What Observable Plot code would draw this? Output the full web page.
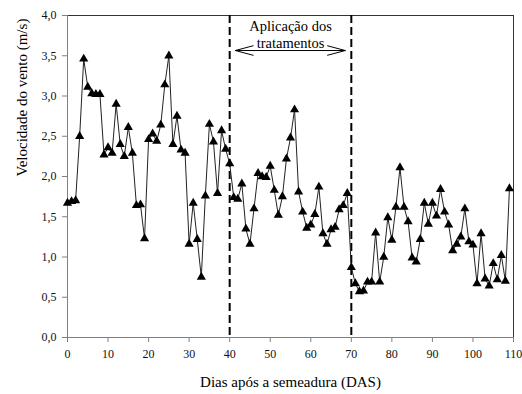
<!DOCTYPE html>
<html><head><meta charset="utf-8">
<script src="https://cdn.jsdelivr.net/npm/d3@7"></script>
<script src="https://cdn.jsdelivr.net/npm/@observablehq/plot@0.6"></script>
<style>body{margin:0;background:#fff}</style>
</head><body><div id="chart"></div>
<script>
// Days after sowing (DAS)
const days = d3.range(0, 110);
// Wind speed (m/s)
const speeds = [
  1.67,1.69,1.70,2.50,3.46,3.11,3.03,3.02,3.02,2.27,
  2.36,2.29,2.90,2.40,2.25,2.61,2.29,1.64,1.65,1.23,
  2.46,2.53,2.44,2.64,3.14,3.50,2.40,2.75,2.33,2.29,
  1.16,1.67,1.22,0.75,1.76,2.65,2.43,1.79,2.57,2.34,
  2.16,1.74,1.72,1.91,1.35,1.16,1.60,2.04,2.00,1.99,
  2.13,1.83,1.52,1.75,2.22,2.48,2.83,1.81,1.56,1.36,
  1.40,1.53,1.87,1.29,1.16,1.34,1.37,1.59,1.64,1.79,
  0.87,0.67,0.57,0.58,0.69,0.69,1.30,0.69,1.00,1.49,
  1.21,1.62,2.11,1.62,1.44,0.99,0.94,1.22,1.67,1.41,
  1.67,1.51,1.84,1.56,1.40,1.08,1.16,1.25,1.60,1.19,
  1.15,0.67,1.29,0.73,0.64,0.92,0.72,1.02,0.70,1.85
];
const xTicks = [0,10,20,30,40,50,60,70,80,90,100,110];
const yTicks = [0,0.5,1,1.5,2,2.5,3,3.5,4];
const phaseBounds = [40, 70];
const annotLines = ["Aplicação dos", "tratamentos"];
const annotX = [55, 55];
const annotY = [3.867, 3.652];
const arrowStart = [55, 55];
const arrowEnd = [41.4, 68.5];
const arrowY = [3.565, 3.565];
const xTitle = "Dias após a semeadura (DAS)";
const yTitle = "Velocidade do vento (m/s)";

const data = days.map((d, i) => ({day: d, speed: speeds[i]}));
const annots = annotLines.map((t, i) => ({t, x: annotX[i], y: annotY[i]}));
const arrows = arrowStart.map((s, i) => ({x1: s, x2: arrowEnd[i], y: arrowY[i]}));
const serif = "Liberation Serif, Times New Roman, DejaVu Serif, serif";

const chart = Plot.plot({
  width: 522, height: 394,
  marginLeft: 67, marginRight: 9, marginTop: 15, marginBottom: 57,
  style: {fontFamily: serif, fontSize: "12px", color: "#000", background: "#fff"},
  x: {domain: [0, 110]},
  y: {domain: [0, 4]},
  marks: [
    Plot.ruleY([4], {stroke: "#333"}),
    Plot.ruleX([110], {stroke: "#333"}),
    Plot.axisX({ticks: xTicks, tickSize: 5, tickPadding: 7, stroke: "#808080", fill: "#111", label: null, fontFamily: serif, fontSize: 12}),
    Plot.axisY({ticks: yTicks, tickSize: 5, tickPadding: 6, stroke: "#808080", fill: "#111", label: null, fontFamily: serif, fontSize: 12,
      tickFormat: d => d.toFixed(1).replace(".", ",")}),
    Plot.ruleX([0], {stroke: "#808080"}),
    Plot.ruleY([0], {stroke: "#808080"}),
    Plot.ruleX(phaseBounds, {stroke: "#000", strokeWidth: 2, strokeDasharray: "8,4"}),
    Plot.line(data, {x: "day", y: "speed", stroke: "#222", strokeWidth: 1}),
    Plot.dot(data, {x: "day", y: "speed", symbol: "triangle", fill: "#000", r: 3.4}),
    Plot.text(annots, {x: "x", y: "y", text: "t", fontSize: 14.5, fontFamily: serif, lineAnchor: "middle", fill: "#000"}),
    Plot.arrow(arrows, {x1: "x1", y1: "y", x2: "x2", y2: "y", bend: 0, headLength: 30, headAngle: 30, stroke: "#000", strokeWidth: 1}),
    Plot.text([yTitle], {text: d => d, frameAnchor: "left", dx: -45, rotate: -90, fontSize: 15, fontFamily: serif, lineAnchor: "middle", fill: "#000"}),
    Plot.text([xTitle], {text: d => d, frameAnchor: "bottom", dy: 45, fontSize: 15, fontFamily: serif, lineAnchor: "middle", fill: "#000"})
  ]
});
document.getElementById("chart").appendChild(chart);
</script>
</body></html>
